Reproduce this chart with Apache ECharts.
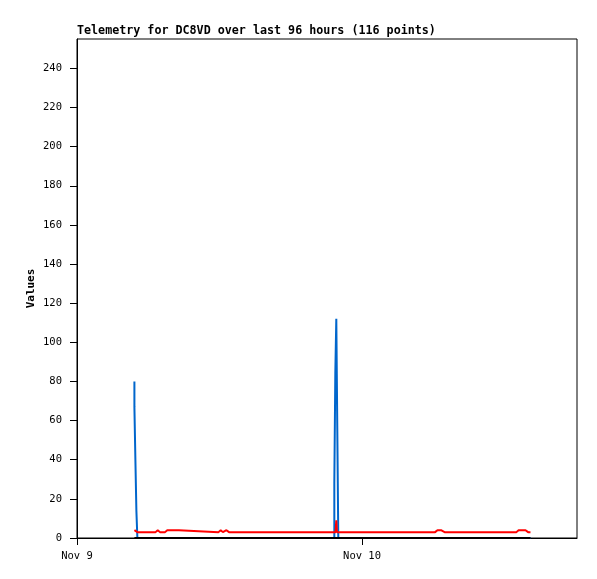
<!DOCTYPE html>
<html>
<head>
<meta charset="utf-8">
<script src="https://cdn.jsdelivr.net/npm/echarts@6/dist/echarts.min.js"></script>
<style>html,body{margin:0;padding:0;background:#fff}#c{width:597px;height:579px}</style>
</head>
<body>
<div id="c"></div>
<script>
var titleText = 'Telemetry for DC8VD over last 96 hours (116 points)';
var yTickLabels = [0, 20, 40, 60, 80, 100, 120, 140, 160, 180, 200, 220, 240];
var xDayLabels = ['Nov 9', 'Nov 10'];

// red series
var redTimes = ['2023-11-09T04:50','2023-11-09T04:58','2023-11-09T05:05','2023-11-09T06:37','2023-11-09T06:48','2023-11-09T06:59',
  '2023-11-09T07:25','2023-11-09T07:36','2023-11-09T08:35','2023-11-09T08:45','2023-11-09T11:55','2023-11-09T12:06',
  '2023-11-09T12:17','2023-11-09T12:35','2023-11-09T12:48','2023-11-09T21:46','2023-11-09T21:50','2023-11-09T21:53',
  '2023-11-10T06:09','2023-11-10T06:21','2023-11-10T06:39','2023-11-10T06:57','2023-11-10T09:18','2023-11-10T09:28',
  '2023-11-10T09:38','2023-11-10T13:00','2023-11-10T13:11','2023-11-10T13:21','2023-11-10T13:31','2023-11-10T13:46',
  '2023-11-10T13:59','2023-11-10T14:11'];
var redValues = [4,4,3,3,4,3, 3,4,4,3,3,4, 3,4,3,3,9,3, 3,4,4,3,3,4, 3,3,4,3,4,4, 3,3];

// blue series
var blueTimes = ['2023-11-09T04:50','2023-11-09T04:55','2023-11-09T05:00','2023-11-09T05:05','2023-11-09T05:10',
  '2023-11-09T21:40','2023-11-09T21:45','2023-11-09T21:50','2023-11-09T21:55','2023-11-09T22:00','2023-11-09T22:05',
  '2023-11-10T14:11'];
var blueValues = [80,67,40,14,0, 0,28,84,112,56,0, 0];

// black series
var blackTimes = ['2023-11-09T04:50','2023-11-10T14:11'];
var blackValues = [0, 0];

function ts(s){ return Date.parse(s + ':00Z'); }
function pairs(t, v){ return t.map(function(s,i){ return [ts(s), v[i]]; }); }

var DAY = 86400000;
var xMin = Date.UTC(2023, 10, 9);
var xMax = xMin + 42.1 * 3600000;
var MONTHS = ['Jan','Feb','Mar','Apr','May','Jun','Jul','Aug','Sep','Oct','Nov','Dec'];

var chart = echarts.init(document.getElementById('c'), null, {renderer:'canvas'});
chart.setOption({
  animation: false,
  backgroundColor: '#fff',
  title: {
    text: titleText, left: 77, top: 25, padding: 0,
    textStyle: {fontFamily: 'DejaVu Sans Mono', fontWeight: 'bold', fontSize: 11.7, color: '#000'}
  },
  grid: {left: 77, right: 20, top: 39, bottom: 41, show: true, borderColor: '#000', borderWidth: 1, backgroundColor: 'transparent'},
  xAxis: {
    type: 'value', min: xMin, max: xMax, interval: DAY,
    axisLine: {lineStyle: {color: '#000', width: 1}},
    axisTick: {length: 7, lineStyle: {color: '#000'}},
    splitLine: {show: false},
    axisLabel: {
      margin: 13, color: '#000', fontFamily: 'DejaVu Sans Mono', fontSize: 10.5,
      formatter: function(v){ var i = Math.round((v - xMin)/DAY); if (xDayLabels[i]) return xDayLabels[i]; var d = new Date(v); return MONTHS[d.getUTCMonth()] + ' ' + d.getUTCDate(); },
      showMaxLabel: false
    }
  },
  yAxis: {
    type: 'value', min: 0, max: 255, interval: 20,
    name: 'Values', nameLocation: 'middle', nameGap: 40, nameRotate: 90, nameMoveOverlap: false,
    nameTextStyle: {fontFamily: 'DejaVu Sans Mono', fontWeight: 'bold', fontSize: 11, color: '#000'},
    axisLine: {show: true, lineStyle: {color: '#000', width: 1}},
    axisTick: {show: true, length: 7, lineStyle: {color: '#000'}},
    splitLine: {show: false},
    axisLabel: {
      margin: 15, color: '#000', fontFamily: 'DejaVu Sans Mono', fontSize: 10.5, showMaxLabel: false,
      formatter: function(v){ return yTickLabels.indexOf(v) >= 0 ? String(v) : ''; }
    }
  },
  series: [
    {type: 'line', data: pairs(blueTimes, blueValues), step: 'start', symbol: 'none', lineStyle: {color: '#0066cc', width: 2}, clip: false, z: 2},
    {type: 'line', data: pairs(blackTimes, blackValues), symbol: 'none', lineStyle: {color: '#000', width: 2}, clip: false, z: 3},
    {type: 'line', data: pairs(redTimes, redValues), symbol: 'none', lineStyle: {color: '#ff0000', width: 2}, clip: false, z: 4}
  ]
});
</script>
</body>
</html>
